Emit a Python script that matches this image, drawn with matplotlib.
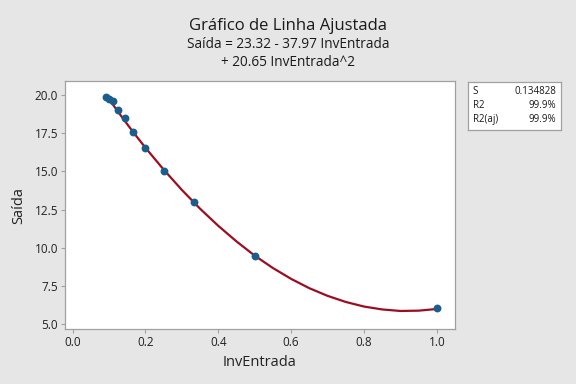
import numpy as np
import matplotlib
matplotlib.use('Agg')
import matplotlib.pyplot as plt

plt.rcParams['font.family'] = ['Open Sans', 'DejaVu Sans']

# observed points
inv_entrada = [1/11, 1/10, 1/9, 1/8, 1/7, 1/6, 1/5, 1/4, 1/3, 1/2, 1.0]
saida = [19.85, 19.75, 19.6, 19.05, 18.5, 17.55, 16.55, 15.05, 13.0, 9.5, 6.05]

# fitted curve
fit_x = [0.0909, 0.1, 0.125, 0.15, 0.175, 0.2, 0.25, 0.3, 0.35, 0.4, 0.45, 0.5,
         0.55, 0.6, 0.65, 0.7, 0.75, 0.8, 0.85, 0.9, 0.95, 1.0]
fit_y = [19.95, 19.73, 18.90, 18.09, 17.31, 16.55, 15.12, 13.79, 12.56, 11.44,
         10.42, 9.49, 8.68, 7.97, 7.36, 6.86, 6.46, 6.16, 5.97, 5.87, 5.89, 6.00]

stats = [('S', '0.134828'), ('R2', '99.9%'), ('R2(aj)', '99.9%')]

bg = '#e6e6e6'
fig = plt.figure(figsize=(5.76, 3.84), dpi=100, facecolor=bg)
W, H = 576, 384
ax = fig.add_axes([65/W, 1 - 329/H, (455-65)/W, (329-81)/H])
ax.set_facecolor('white')

ax.plot(fit_x, fit_y, color='#9c0d22', lw=1.6, zorder=2)
ax.scatter(inv_entrada, saida, s=32, color='#1b5d8c', zorder=3, linewidths=0)

ax.set_xlim(-0.021, 1.050)
ax.set_ylim(4.69, 20.92)
ax.set_xticks([0.0, 0.2, 0.4, 0.6, 0.8, 1.0])
ax.set_yticks([5.0, 7.5, 10.0, 12.5, 15.0, 17.5, 20.0])
ax.set_xticklabels(['0.0', '0.2', '0.4', '0.6', '0.8', '1.0'])
ax.set_yticklabels(['5.0', '7.5', '10.0', '12.5', '15.0', '17.5', '20.0'])
for s in ax.spines.values():
    s.set_color('#a0a0a0')
    s.set_linewidth(0.9)
ax.tick_params(direction='out', length=3, width=0.8, color='#a0a0a0',
               labelsize=8.5, labelcolor='#222222', pad=2)

ax.set_xlabel('InvEntrada', fontsize=10.5, color='#222222', labelpad=4)
ax.set_ylabel('Saída', fontsize=10.5, color='#222222', labelpad=6)

fig.text(288/W, 1 - 26/H, 'Gráfico de Linha Ajustada', ha='center', va='center',
         fontsize=12, color='#1a1a1a')
fig.text(288/W, 1 - 45/H, 'Saída = 23.32 - 37.97 InvEntrada', ha='center',
         va='center', fontsize=9.8, color='#1a1a1a')
fig.text(288/W, 1 - 63/H, '+ 20.65 InvEntrada^2', ha='center',
         va='center', fontsize=9.8, color='#1a1a1a')

# stats box
bx = fig.add_axes([468/W, 1 - 130/H, (561-468)/W, (130-82)/H])
bx.set_xlim(0, 1)
bx.set_ylim(0, 1)
bx.set_xticks([])
bx.set_yticks([])
bx.set_facecolor('white')
for s in bx.spines.values():
    s.set_color('#a0a0a0')
    s.set_linewidth(0.9)
for i, (k, v) in enumerate(stats):
    yy = 0.8 - i * 0.29
    bx.text(0.05, yy, k, ha='left', va='center', fontsize=7, color='#1a1a1a')
    bx.text(0.95, yy, v, ha='right', va='center', fontsize=7, color='#1a1a1a')

fig.savefig('out.png', dpi=100, facecolor=bg)
